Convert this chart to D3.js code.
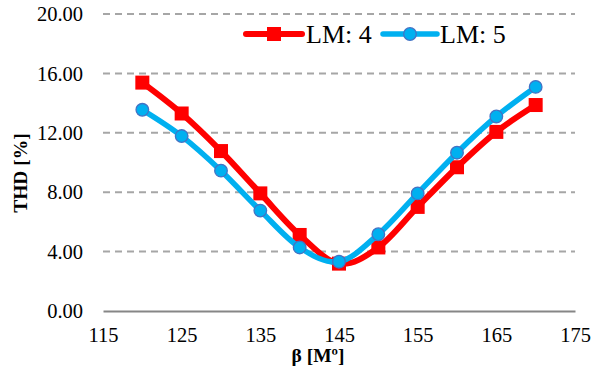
<!DOCTYPE html>
<html>
<head>
<meta charset="utf-8">
<script src="https://cdn.jsdelivr.net/npm/d3@7"></script>
<style>
  html, body { margin: 0; padding: 0; background: #fff; }
  svg { display: block; }
</style>
</head>
<body>
<svg id="chart" width="592" height="376"></svg>
<script>
// Beta angle (x) and THD values for each LM level
const beta = [120, 125, 130, 135, 140, 145, 150, 155, 160, 165, 170];
const thdLM4 = [15.38, 13.30, 10.77, 7.92, 5.12, 3.19, 4.28, 7.01, 9.68, 12.06, 13.87];
const thdLM5 = [13.55, 11.78, 9.45, 6.76, 4.28, 3.32, 5.17, 7.92, 10.66, 13.10, 15.09];
const xTicks = [115, 125, 135, 145, 155, 165, 175];
const yTicks = [0, 4, 8, 12, 16, 20];
const seriesNames = ["LM: 4", "LM: 5"];

const FONT = "Liberation Serif";
const svg = d3.select("#chart");
const plotLeft = 103, plotRight = 575, plotTop = 14, plotBottom = 311;

const x = d3.scaleLinear().domain([115, 175]).range([plotLeft, plotRight]);
const y = d3.scaleLinear().domain([0, 20]).range([plotBottom, plotTop]);

// horizontal dashed gridlines
svg.append("g").selectAll("line")
  .data(yTicks.filter(d => d > 0))
  .join("line")
  .attr("x1", plotLeft).attr("x2", plotRight)
  .attr("y1", d => y(d)).attr("y2", d => y(d))
  .attr("stroke", "#a6a6a6").attr("stroke-width", 2)
  .attr("stroke-dasharray", "7,5");

// y axis labels
const yAxis = d3.axisLeft(y).tickValues(yTicks).tickFormat(d3.format(".2f")).tickSize(0).tickPadding(20);
const gy = svg.append("g").attr("transform", `translate(${plotLeft},0)`).call(yAxis)
  .attr("font-family", null).attr("font-size", null);
gy.select(".domain").remove();
gy.selectAll("text").attr("dy", "0.33em")
  .style("font-family", FONT).style("font-size", "20.5px").attr("fill", "#000");

// x axis
const xAxis = d3.axisBottom(x).tickValues(xTicks).tickFormat(d3.format("d")).tickSize(0).tickPadding(16);
const gx = svg.append("g").attr("transform", `translate(0,${plotBottom})`).call(xAxis)
  .attr("font-family", null).attr("font-size", null);
gx.select(".domain").attr("stroke", "#868686").attr("stroke-width", 2);
gx.selectAll("text")
  .style("font-family", FONT).style("font-size", "20.5px").attr("fill", "#000");

// axis titles
svg.append("text")
  .attr("x", 318).attr("y", 362)
  .attr("text-anchor", "middle")
  .style("font-family", FONT).style("font-size", "19.5px").style("font-weight", "bold")
  .text("β [Mº]");
svg.append("text")
  .attr("transform", "translate(27,173) rotate(-90)")
  .attr("text-anchor", "middle")
  .style("font-family", FONT).style("font-size", "19.5px").style("font-weight", "bold")
  .text("THD [%]");

const line = d3.line()
  .x((d, i) => x(beta[i]))
  .y(d => y(d))
  .curve(d3.curveCatmullRom.alpha(0));

// LM: 4 series (red, squares)
svg.append("path").datum(thdLM4)
  .attr("d", line).attr("fill", "none")
  .attr("stroke", "#ff0000").attr("stroke-width", 6).attr("stroke-linejoin", "round");
svg.append("g").selectAll("rect")
  .data(thdLM4).join("rect")
  .attr("x", (d, i) => x(beta[i]) - 7).attr("y", d => y(d) - 7)
  .attr("width", 14).attr("height", 14)
  .attr("fill", "#ff0000");

// LM: 5 series (blue, circles)
svg.append("path").datum(thdLM5)
  .attr("d", line).attr("fill", "none")
  .attr("stroke", "#00b0f0").attr("stroke-width", 5.5).attr("stroke-linejoin", "round");
svg.append("g").selectAll("circle")
  .data(thdLM5).join("circle")
  .attr("cx", (d, i) => x(beta[i])).attr("cy", d => y(d))
  .attr("r", 6.3)
  .attr("fill", "#00b0f0").attr("stroke", "#4472c4").attr("stroke-width", 1.3);

// legend
const lg = svg.append("g");
lg.append("line").attr("x1", 246).attr("x2", 302).attr("y1", 34).attr("y2", 34)
  .attr("stroke", "#ff0000").attr("stroke-width", 6).attr("stroke-linecap", "round");
lg.append("rect").attr("x", 267).attr("y", 27).attr("width", 14).attr("height", 14).attr("fill", "#ff0000");
lg.append("text").attr("x", 306).attr("y", 43)
  .style("font-family", FONT).style("font-size", "26px").text(seriesNames[0]);
lg.append("line").attr("x1", 383).attr("x2", 437).attr("y1", 34).attr("y2", 34)
  .attr("stroke", "#00b0f0").attr("stroke-width", 5.5).attr("stroke-linecap", "round");
lg.append("circle").attr("cx", 410).attr("cy", 34).attr("r", 6.3)
  .attr("fill", "#00b0f0").attr("stroke", "#4472c4").attr("stroke-width", 1.3);
lg.append("text").attr("x", 440).attr("y", 43)
  .style("font-family", FONT).style("font-size", "26px").text(seriesNames[1]);
</script>
</body>
</html>
